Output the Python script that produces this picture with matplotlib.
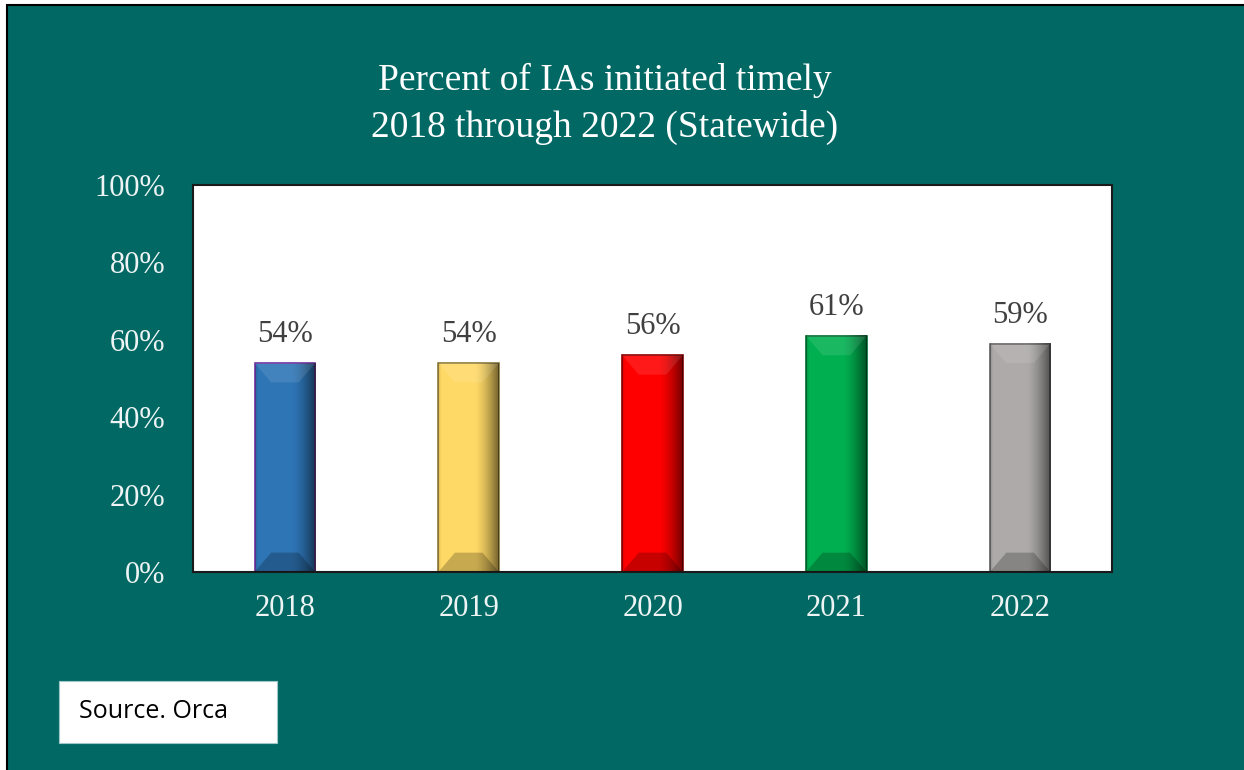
"""Percent of IAs initiated timely, 2018 through 2022 (Statewide)."""

import matplotlib
matplotlib.use("Agg")
import matplotlib.pyplot as plt
import numpy as np
from matplotlib.patches import Polygon, Rectangle

YEARS = ["2018", "2019", "2020", "2021", "2022"]
PERCENT = [54, 54, 56, 61, 59]
BAR_COLORS = ["#2E75B6", "#FFD966", "#FF0000", "#00B050", "#AEAAAA"]
EDGE_COLORS = ["#7030A0", "#8C7A3A", "#8B0000", "#006B30", "#606060"]
Y_TICKS = [0, 20, 40, 60, 80, 100]

TEAL = "#016864"
SERIF = ["Liberation Serif", "DejaVu Serif"]

W, H = 1244, 770
fig = plt.figure(figsize=(W / 100, H / 100), dpi=100)
fig.patch.set_facecolor("white")

# teal slide background with thin black border on top/left
fig.add_artist(Rectangle((7 / W, -0.01), 1.02, 1 - 5 / H + 0.01, transform=fig.transFigure,
                         facecolor=TEAL, edgecolor="black", linewidth=1.5, zorder=0))

ax = fig.add_axes([193 / W, 198 / H, 919 / W, 387 / H])
ax.set_facecolor("white")
x = np.arange(len(YEARS))
width = 0.33
bars = ax.bar(x, PERCENT, width, color=BAR_COLORS, edgecolor=EDGE_COLORS, linewidth=1.2, zorder=2)

# bevel shading on each bar
bx, by = 0.09, 5.0
for bar in bars:
    x0, x1 = bar.get_x(), bar.get_x() + bar.get_width()
    h = bar.get_height()
    grad = np.zeros((2, 100, 4))
    t = np.linspace(0, 1, 100)
    grad[..., 3] = np.clip((t - 0.6) / 0.4, 0, 1) ** 1.5 * 0.55 + np.clip((0.05 - t) / 0.05, 0, 1) * 0.15
    ax.imshow(grad, extent=(x0, x1, 0, h), aspect="auto", zorder=2.5, interpolation="bilinear")
    ax.add_patch(Polygon([(x0, h), (x1, h), (x1 - bx, h - by), (x0 + bx, h - by)],
                         closed=True, facecolor="white", alpha=0.1, edgecolor="none", zorder=3))
    ax.add_patch(Polygon([(x0, 0), (x1, 0), (x1 - bx, by), (x0 + bx, by)],
                         closed=True, facecolor="black", alpha=0.22, edgecolor="none", zorder=3))
    ax.annotate(f"{h:.0f}%", (bar.get_x() + bar.get_width() / 2, h), xytext=(0, 10),
                textcoords="offset points", ha="center", va="bottom",
                fontsize=22, color="#404040", family=SERIF)

ax.set_xlim(-0.5, len(YEARS) - 0.5)
ax.set_ylim(0, 100)
ax.set_xticks(x, YEARS)
ax.set_yticks(Y_TICKS, [f"{v}%" for v in Y_TICKS])
ax.tick_params(length=0, labelsize=22, labelcolor="#EEF4F3")
ax.tick_params(axis="x", pad=16)
ax.tick_params(axis="y", pad=20)
for lab in ax.get_xticklabels() + ax.get_yticklabels():
    lab.set_family(SERIF)
for edge in ax.spines.values():
    edge.set_color("#1a1a1a")
    edge.set_linewidth(1.5)

fig.text(605 / W, 1 - 104 / H, "Percent of IAs initiated timely\n2018 through 2022 (Statewide)",
         ha="center", va="center", color="white", fontsize=27, family=SERIF, linespacing=1.42)

# source note box
fig.add_artist(Rectangle((59 / W, 1 - 743 / H), 218 / W, 62 / H, transform=fig.transFigure,
                         facecolor="white", edgecolor="#a0c8c8", linewidth=0.8, zorder=1))
fig.text(79 / W, 1 - 711 / H, "Source. Orca", ha="left", va="center", color="black",
         fontsize=18, family=["Open Sans", "DejaVu Sans"])

fig.savefig("out.png", dpi=100, facecolor=fig.get_facecolor())
